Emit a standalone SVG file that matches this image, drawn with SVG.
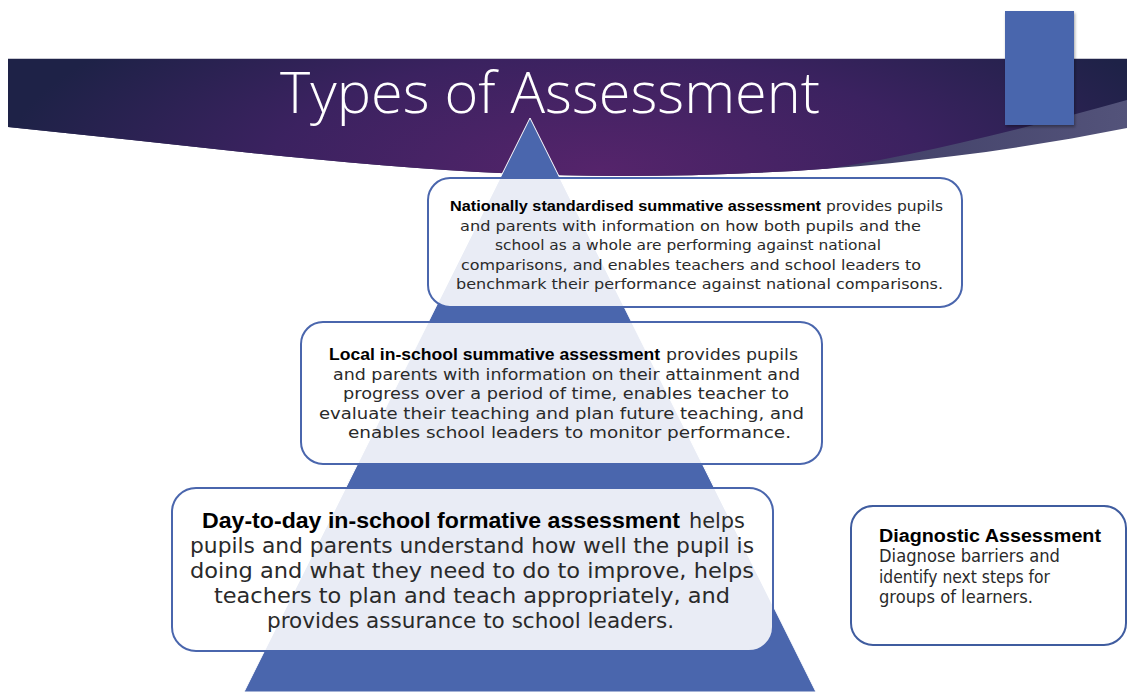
<svg xmlns="http://www.w3.org/2000/svg" width="1127" height="692" viewBox="0 0 1127 692">
<defs>
<radialGradient id="bannerGrad" cx="600" cy="170" r="600" gradientUnits="userSpaceOnUse" gradientTransform="translate(600 170) scale(1 0.35) translate(-600 -170)">
<stop offset="0" stop-color="#55246b"/>
<stop offset="0.55" stop-color="#3b2260"/>
<stop offset="1" stop-color="#1e2247"/>
</radialGradient>
<linearGradient id="bandGrad" x1="750" y1="0" x2="1127" y2="0" gradientUnits="userSpaceOnUse">
<stop offset="0" stop-color="#3a3860"/>
<stop offset="1" stop-color="#53537a"/>
</linearGradient>
<clipPath id="outerClip">
<path d="M8,58 H1127 V128 C958,161.8 789,176 620,176 C416,176 212,147.4 8,127 Z"/>
</clipPath>
<filter id="shadow" x="-20%" y="-20%" width="150%" height="150%">
<feDropShadow dx="1" dy="2" stdDeviation="1.5" flood-color="#000" flood-opacity="0.35"/>
</filter>
</defs>
<style>
.box{fill:#ffffff;fill-opacity:0.88;stroke:#4a66ad;stroke-width:2}
.t{font-family:"DejaVu Sans","Liberation Sans",sans-serif;fill:#2a2a2a}
.b{font-family:"Liberation Sans","DejaVu Sans",sans-serif;font-weight:bold;fill:#000}
</style>
<rect width="1127" height="692" fill="#ffffff"/>
<g id="banner">
<path d="M8,58 H1127 V128 C958,161.8 789,176 620,176 C416,176 212,147.4 8,127 Z" fill="url(#bandGrad)"/>
<path clip-path="url(#outerClip)" d="M8,58 H1127 V100 C1000,135 880,165 760,178 L8,200 Z" fill="url(#bannerGrad)"/>
<line x1="8" y1="58.5" x2="1127" y2="58.5" stroke="#c9c9d2" stroke-width="1"/>
</g>
<g id="accent">
<rect x="1005" y="11" width="69" height="114" fill="#4a66ad" filter="url(#shadow)"/>
</g>
<g id="title">
<text x="550" y="113" font-family="'Open Sans','DejaVu Sans',sans-serif" font-weight="300" font-size="57" fill="#ffffff" text-anchor="middle" textLength="540" lengthAdjust="spacingAndGlyphs">Types of Assessment</text>
</g>
<g id="pyramid">
<path d="M530,118 L816,692 L244,692 Z" fill="#4a66ad" stroke="#ffffff" stroke-width="1"/>
</g>
<g id="node-national">
<rect class="box" x="428" y="178" width="534" height="129" rx="22"/>
<text class="b" font-size="15" x="450" y="211" textLength="371" lengthAdjust="spacingAndGlyphs">Nationally standardised summative assessment</text>
<text class="t" font-size="14.5" x="826" y="211" textLength="117" lengthAdjust="spacingAndGlyphs">provides pupils</text>
<text class="t" font-size="14.5" x="460" y="230.5" textLength="461" lengthAdjust="spacingAndGlyphs">and parents with information on how both pupils and the</text>
<text class="t" font-size="14.5" x="495" y="250" textLength="386" lengthAdjust="spacingAndGlyphs">school as a whole are performing against national</text>
<text class="t" font-size="14.5" x="461" y="269.5" textLength="460" lengthAdjust="spacingAndGlyphs">comparisons, and enables teachers and school leaders to</text>
<text class="t" font-size="14.5" x="456" y="288.5" textLength="487" lengthAdjust="spacingAndGlyphs">benchmark their performance against national comparisons.</text>
</g>
<g id="node-local">
<rect class="box" x="301" y="322" width="521" height="142" rx="22"/>
<text class="b" font-size="17" x="329" y="360" textLength="331" lengthAdjust="spacingAndGlyphs">Local in-school summative assessment</text>
<text class="t" font-size="16.5" x="666" y="360" textLength="132" lengthAdjust="spacingAndGlyphs">provides pupils</text>
<text class="t" font-size="16.5" x="333" y="379.5" textLength="467" lengthAdjust="spacingAndGlyphs">and parents with information on their attainment and</text>
<text class="t" font-size="16.5" x="343" y="399" textLength="446" lengthAdjust="spacingAndGlyphs">progress over a period of time, enables teacher to</text>
<text class="t" font-size="16.5" x="319" y="418.5" textLength="485" lengthAdjust="spacingAndGlyphs">evaluate their teaching and plan future teaching, and</text>
<text class="t" font-size="16.5" x="348" y="438" textLength="443" lengthAdjust="spacingAndGlyphs">enables school leaders to monitor performance.</text>
</g>
<g id="node-daytoday">
<rect class="box" x="172" y="488" width="601" height="163" rx="24"/>
<text class="b" font-size="21.5" x="202" y="528" textLength="478" lengthAdjust="spacingAndGlyphs">Day-to-day in-school formative assessment</text>
<text class="t" font-size="21" x="689" y="528" textLength="56" lengthAdjust="spacingAndGlyphs">helps</text>
<text class="t" font-size="21" x="190" y="553" textLength="564" lengthAdjust="spacingAndGlyphs">pupils and parents understand how well the pupil is</text>
<text class="t" font-size="21" x="190" y="578" textLength="564" lengthAdjust="spacingAndGlyphs">doing and what they need to do to improve, helps</text>
<text class="t" font-size="21" x="214" y="603" textLength="516" lengthAdjust="spacingAndGlyphs">teachers to plan and teach appropriately, and</text>
<text class="t" font-size="21" x="267" y="628" textLength="407" lengthAdjust="spacingAndGlyphs">provides assurance to school leaders.</text>
</g>
<g id="node-diagnostic">
<rect class="box" x="851" y="506" width="275" height="139" rx="22" style="fill-opacity:1;stroke:#3f5c9f"/>
<text class="b" font-size="18" x="879" y="542" textLength="222" lengthAdjust="spacingAndGlyphs">Diagnostic Assessment</text>
<text class="t" font-size="17" x="879" y="562" textLength="181" lengthAdjust="spacingAndGlyphs">Diagnose barriers and</text>
<text class="t" font-size="17" x="879" y="582.5" textLength="171" lengthAdjust="spacingAndGlyphs">identify next steps for</text>
<text class="t" font-size="17" x="879" y="603" textLength="154" lengthAdjust="spacingAndGlyphs">groups of learners.</text>
</g>
</svg>
